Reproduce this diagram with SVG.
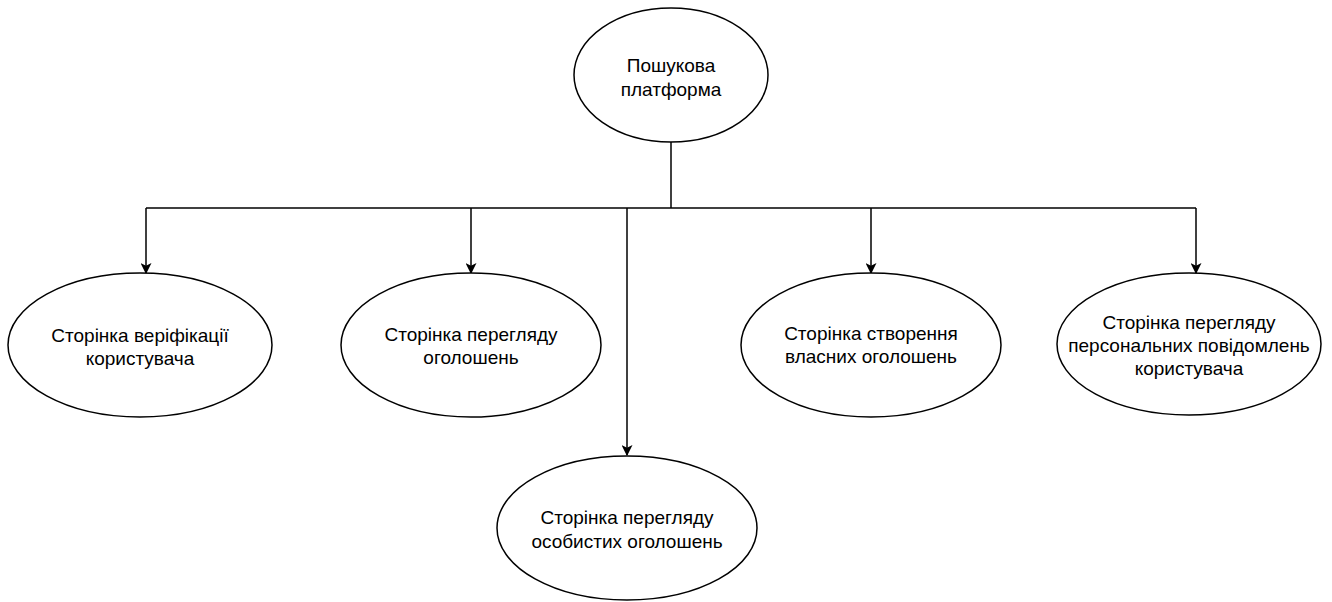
<svg xmlns="http://www.w3.org/2000/svg" width="1332" height="602" viewBox="0 0 1332 602">
  <style>
    .node ellipse { fill: #ffffff; stroke: #000000; stroke-width: 1.5; }
    .node text { font-family: "Liberation Sans", Arial, sans-serif; font-size: 19px; fill: #000000; text-anchor: middle; }
    .edge { fill: none; stroke: #000000; stroke-width: 1.5; }
  </style>
  <defs>
    <marker id="arrow" viewBox="0 0 10 10" refX="9" refY="5" markerWidth="11" markerHeight="11" markerUnits="userSpaceOnUse" orient="auto">
      <path d="M0,0 L10,5 L0,10 L2.5,5 Z" fill="#000000"/>
    </marker>
  </defs>
  <rect width="1332" height="602" fill="#ffffff"/>

  <g id="connectors">
    <path class="edge" d="M671,142 V208"/>
    <path class="edge" d="M146,208 H1196"/>
    <path class="edge" d="M146,208 V273" marker-end="url(#arrow)"/>
    <path class="edge" d="M471,208 V273" marker-end="url(#arrow)"/>
    <path class="edge" d="M627,208 V455" marker-end="url(#arrow)"/>
    <path class="edge" d="M871,208 V273" marker-end="url(#arrow)"/>
    <path class="edge" d="M1196,208 V273" marker-end="url(#arrow)"/>
  </g>

  <g id="root" class="node">
    <ellipse cx="671" cy="75" rx="97" ry="67"/>
    <text x="671" y="72">Пошукова</text>
    <text x="671" y="96">платформа</text>
  </g>

  <g id="verification" class="node">
    <ellipse cx="140" cy="345" rx="132" ry="72"/>
    <text x="140" y="342">Сторінка веріфікації</text>
    <text x="140" y="365">користувача</text>
  </g>

  <g id="listings" class="node">
    <ellipse cx="471" cy="345" rx="130" ry="72"/>
    <text x="471" y="341">Сторінка перегляду</text>
    <text x="471" y="364">оголошень</text>
  </g>

  <g id="own-listings" class="node">
    <ellipse cx="627" cy="528" rx="130" ry="72"/>
    <text x="627" y="524">Сторінка перегляду</text>
    <text x="627" y="548">особистих оголошень</text>
  </g>

  <g id="create-listings" class="node">
    <ellipse cx="871" cy="345" rx="130" ry="72"/>
    <text x="871" y="340">Сторінка створення</text>
    <text x="871" y="363">власних оголошень</text>
  </g>

  <g id="messages" class="node">
    <ellipse cx="1189" cy="344" rx="132" ry="71"/>
    <text x="1189" y="329">Сторінка перегляду</text>
    <text x="1189" y="352">персональних повідомлень</text>
    <text x="1189" y="375">користувача</text>
  </g>
</svg>
